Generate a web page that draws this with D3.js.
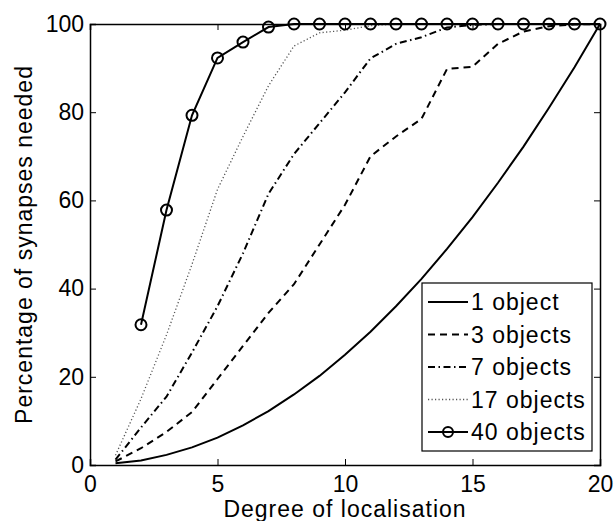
<!DOCTYPE html>
<html>
<head>
<meta charset="utf-8">
<script src="https://cdn.jsdelivr.net/npm/d3@7"></script>
<style>
  body { margin: 0; background: #fff; }
  text { font-family: "Liberation Sans", Arial, Helvetica, sans-serif; fill: #000; }
</style>
</head>
<body>
<div id="chart"></div>
<script>
const width = 615;
const height = 521;

// degree of localisation
const degrees = [1, 2, 3, 4, 5, 6, 7, 8, 9, 10, 11, 12, 13, 14, 15, 16, 17, 18, 19, 20];
const objects1 = [0.4, 1, 2.3, 4, 6.2, 9, 12.2, 16, 20.2, 25, 30.2, 36, 42.2, 49, 56.2, 64, 72.2, 81, 90.2, 100];
const objects3 = [0.8, 3.8, 7.5, 12, 19.5, 27, 34.5, 41, 50, 59, 70, 74.5, 78.5, 89.8, 90.3, 95.5, 98.3, 99.5, 99.9, 100];
const objects7 = [1.2, 8.5, 15.5, 25.5, 36, 48, 61.5, 70.5, 77.5, 84.5, 92.2, 95.5, 97, 99.2, 99.8, 100, 100, 100, 100, 100];
const objects17 = [2.2, 15, 29.5, 45.5, 62.5, 74.5, 86, 95, 98, 98.6, 99.6, 100, 100, 100, 100, 100, 100, 100, 100, 100];
const degrees40 = [2, 3, 4, 5, 6, 7, 8, 9, 10, 11, 12, 13, 14, 15, 16, 17, 18, 19, 20];
const objects40 = [31.8, 57.8, 79.3, 92.3, 95.9, 99.3, 100, 100, 100, 100, 100, 100, 100, 100, 100, 100, 100, 100, 100];

const xTicks = [0, 5, 10, 15, 20];
const yTicks = [0, 20, 40, 60, 80, 100];
const legendLabels = ["1 object", "3 objects", "7 objects", "17 objects", "40 objects"];

const margin = {top: 24, right: 15, bottom: 56, left: 90};
const plotW = width - margin.left - margin.right;
const plotH = height - margin.top - margin.bottom;

const svg = d3.select("#chart")
    .append("svg")
    .attr("width", width)
    .attr("height", height);

const x = d3.scaleLinear().domain([0, 20]).range([0, plotW]);
const y = d3.scaleLinear().domain([0, 100]).range([plotH, 0]);

const g = svg.append("g")
    .attr("transform", `translate(${margin.left},${margin.top})`);

const styles = [
    {dash: null, color: "#000", w: 2},
    {dash: "7,5", color: "#000", w: 2},
    {dash: "7,3.5,1.5,3.5", color: "#000", w: 2},
    {dash: "1.2,2.3", color: "#555", w: 1.3},
    {dash: null, color: "#000", w: 2}
];

const series = [
    degrees.map((d, i) => [d, objects1[i]]),
    degrees.map((d, i) => [d, objects3[i]]),
    degrees.map((d, i) => [d, objects7[i]]),
    degrees.map((d, i) => [d, objects17[i]]),
    degrees40.map((d, i) => [d, objects40[i]])
];

const line = d3.line().x(d => x(d[0])).y(d => y(d[1]));

// axes (ticks inward, mirrored)
const tickSize = 6;
const fontSize = 23;

const xAxis = g.append("g")
    .attr("transform", `translate(0,${plotH})`)
    .call(d3.axisBottom(x).tickValues(xTicks).tickSize(-tickSize).tickPadding(10));
g.append("g")
    .call(d3.axisTop(x).tickValues(xTicks).tickSize(-tickSize).tickFormat(""));
const yAxis = g.append("g")
    .call(d3.axisLeft(y).tickValues(yTicks).tickSize(-tickSize).tickPadding(6));
g.append("g")
    .attr("transform", `translate(${plotW},0)`)
    .call(d3.axisRight(y).tickValues(yTicks).tickSize(-tickSize).tickFormat(""));

g.selectAll(".domain").attr("stroke", "#000").attr("stroke-width", 1.5);
g.selectAll(".tick line").attr("stroke", "#000").attr("stroke-width", 1);
g.selectAll(".tick text")
    .style("font-size", fontSize + "px")
    .style("font-family", "'Liberation Sans', Arial, sans-serif")
    .attr("fill", "#000");
xAxis.selectAll(".tick text").attr("dy", "0.72em");

// series
series.forEach((s, i) => {
    g.append("path")
        .datum(s)
        .attr("fill", "none")
        .attr("stroke", styles[i].color)
        .attr("stroke-width", styles[i].w)
        .attr("stroke-dasharray", styles[i].dash)
        .attr("d", line);
});

g.selectAll("circle.m40")
    .data(series[4])
    .join("circle")
    .attr("class", "m40")
    .attr("cx", d => x(d[0]))
    .attr("cy", d => y(d[1]))
    .attr("r", 5.5)
    .attr("fill", "none")
    .attr("stroke", "#000")
    .attr("stroke-width", 2);

// axis labels
svg.append("text")
    .attr("x", margin.left + plotW / 2)
    .attr("y", 517)
    .attr("text-anchor", "middle")
    .style("font-size", fontSize + "px")
    .style("letter-spacing", "1px")
    .text("Degree of localisation");

svg.append("text")
    .attr("transform", `translate(32,${margin.top + plotH / 2}) rotate(-90)`)
    .attr("text-anchor", "middle")
    .style("font-size", fontSize + "px")
    .style("letter-spacing", "1px")
    .text("Percentage of synapses needed");

// legend
const legend = svg.append("g").attr("transform", "translate(422,283)");
legend.append("rect")
    .attr("width", 170)
    .attr("height", 168)
    .attr("fill", "#fff")
    .attr("stroke", "#000")
    .attr("stroke-width", 1.2);

legendLabels.forEach((lab, i) => {
    const cy = 19 + i * 32.5;
    legend.append("line")
        .attr("x1", 6).attr("x2", 46)
        .attr("y1", cy).attr("y2", cy)
        .attr("stroke", styles[i].color)
        .attr("stroke-width", styles[i].w)
        .attr("stroke-dasharray", styles[i].dash);
    if (i === 4) {
        legend.append("circle")
            .attr("cx", 26).attr("cy", cy).attr("r", 5)
            .attr("fill", "none").attr("stroke", "#000").attr("stroke-width", 2);
    }
    legend.append("text")
        .attr("x", 49)
        .attr("y", cy)
        .attr("dy", "0.36em")
        .style("font-size", fontSize + "px")
        .style("letter-spacing", "1px")
        .text(lab);
});
</script>
</body>
</html>
